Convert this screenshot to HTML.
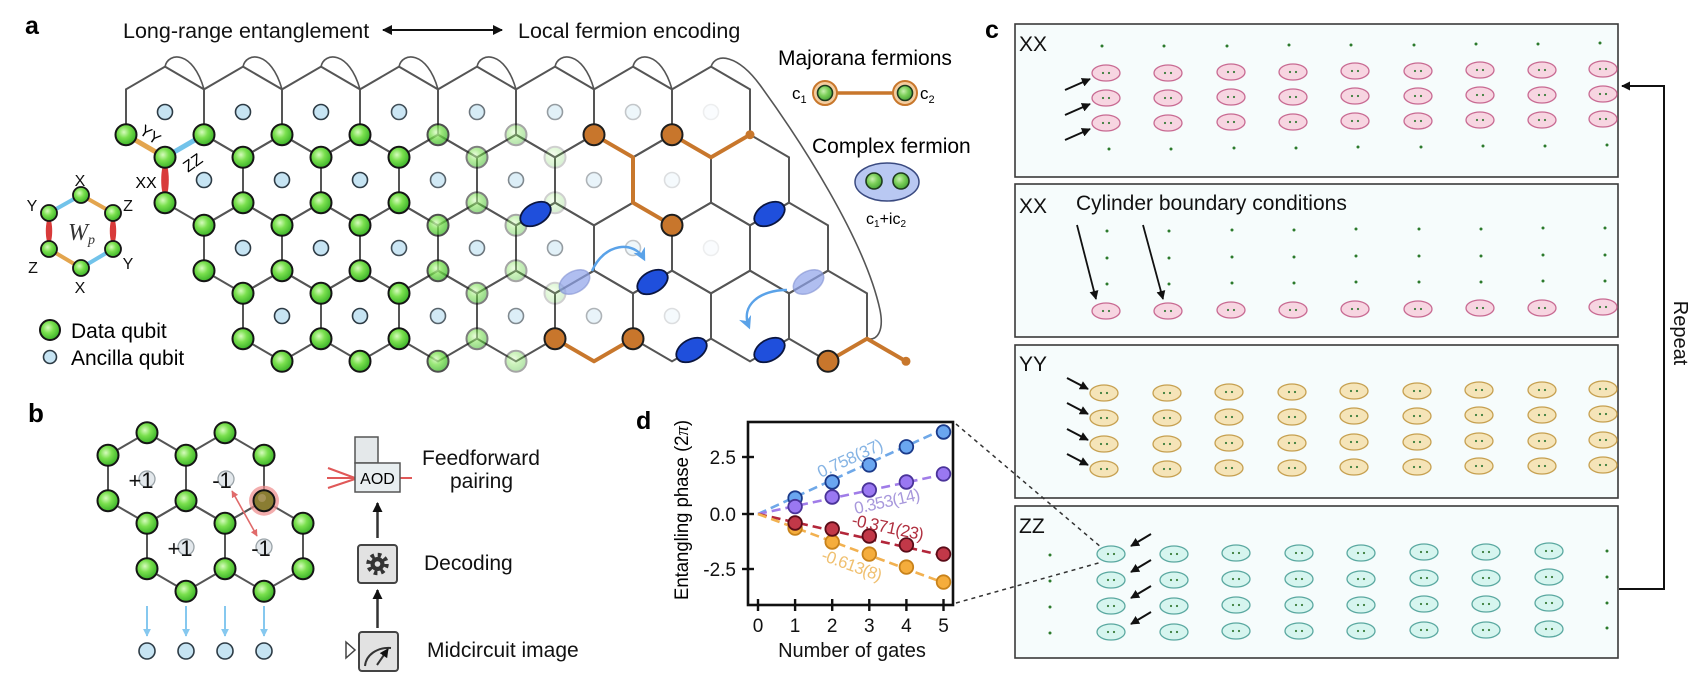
<!DOCTYPE html>
<html><head><meta charset="utf-8">
<style>
html,body{margin:0;padding:0;background:#fff;}
svg{display:block;font-family:"Liberation Sans",Arial,sans-serif;}
</style></head>
<body>
<svg width="1692" height="691" viewBox="0 0 1692 691" xmlns="http://www.w3.org/2000/svg">
<defs>
<radialGradient id="gg" cx="0.4" cy="0.38" r="0.62">
<stop offset="0" stop-color="#d6fbbd"/><stop offset="0.45" stop-color="#7ae04e"/><stop offset="1" stop-color="#3db42a"/>
</radialGradient>
<radialGradient id="gm" cx="0.4" cy="0.38" r="0.62">
<stop offset="0" stop-color="#c9f0b0"/><stop offset="0.5" stop-color="#7ccf5a"/><stop offset="1" stop-color="#4aa83a"/>
</radialGradient>
<path id="hx" d="M0,-45.33 L39,-22.67 L39,22.67 L0,45.33 L-39,22.67 L-39,-22.67 Z" fill="none" stroke="#555" stroke-width="2"/>
<circle id="dq" r="10.5" fill="url(#gg)" stroke="#151515" stroke-width="2"/>
<circle id="an" r="7.5" fill="#c6e4f3" stroke="#2d3b45" stroke-width="1.6"/>
<circle id="oq" r="10.5" fill="#c8762c" stroke="#1e1e1e" stroke-width="2"/>
<ellipse id="be" rx="16.5" ry="10.5" fill="#1f4fdc" stroke="#0b1640" stroke-width="1.8"/>
<ellipse id="le" rx="16.5" ry="10.5" fill="#8ea2ea" fill-opacity="0.7" stroke="#8090d0" stroke-opacity="0.6" stroke-width="1.5"/>
<g id="epk"><ellipse rx="14" ry="8" fill="#f7d5e1" stroke="#c86a92" stroke-width="1.3"/><circle cx="-3" r="1.1" fill="#3b7d3b"/><circle cx="3" r="1.1" fill="#3b7d3b"/></g>
<g id="eyy"><ellipse rx="14" ry="8" fill="#f5e4b8" stroke="#c6a050" stroke-width="1.3"/><circle cx="-3" r="1.1" fill="#3b7d3b"/><circle cx="3" r="1.1" fill="#3b7d3b"/></g>
<g id="ezz"><ellipse rx="14" ry="8" fill="#d6f5ef" stroke="#5aa8a0" stroke-width="1.3"/><circle cx="-3" r="1.1" fill="#3b7d3b"/><circle cx="3" r="1.1" fill="#3b7d3b"/></g>
<circle id="gd" r="1.5" fill="#2c7a2c"/>
<marker id="ka" viewBox="0 0 10 10" refX="9" refY="5" markerWidth="10" markerHeight="10" markerUnits="userSpaceOnUse" orient="auto-start-reverse"><path d="M0,0 L10,5 L0,10 Z" fill="#111"/></marker>
<marker id="ks" viewBox="0 0 10 10" refX="9" refY="5" markerWidth="9" markerHeight="9" markerUnits="userSpaceOnUse" orient="auto"><path d="M0,0 L10,5 L0,10 Z" fill="#111"/></marker>
<marker id="bm" viewBox="0 0 10 10" refX="8" refY="5" markerWidth="13" markerHeight="13" markerUnits="userSpaceOnUse" orient="auto"><path d="M0,0 L10,5 L0,10 L3,5 Z" fill="#5aa2e8"/></marker>
<marker id="lb" viewBox="0 0 10 10" refX="9" refY="5" markerWidth="8" markerHeight="8" markerUnits="userSpaceOnUse" orient="auto"><path d="M0,0 L10,5 L0,10 Z" fill="#86c8ef"/></marker>
<marker id="rm" viewBox="0 0 10 10" refX="9" refY="5" markerWidth="7" markerHeight="7" markerUnits="userSpaceOnUse" orient="auto-start-reverse"><path d="M0,0 L10,5 L0,10 Z" fill="#e06a6a"/></marker>
</defs>

<!-- ============ PANEL A ============ -->
<text x="25" y="34" font-size="25" font-weight="bold">a</text>
<text x="123" y="38" font-size="21.5" fill="#111">Long-range entanglement</text>
<line x1="383" y1="30" x2="502" y2="30" stroke="#111" stroke-width="2" marker-start="url(#ka)" marker-end="url(#ka)"/>
<text x="518" y="38" font-size="21.5" fill="#111">Local fermion encoding</text>

<!-- top loops -->
<g fill="none" stroke="#555" stroke-width="1.6">
<path d="M165,66.7 C168,52 193,50 204,89.3"/>
<path d="M243,66.7 C246,52 271,50 282,89.3"/>
<path d="M321,66.7 C324,52 349,50 360,89.3"/>
<path d="M399,66.7 C402,52 427,50 438,89.3"/>
<path d="M477,66.7 C480,52 505,50 516,89.3"/>
<path d="M555,66.7 C558,52 583,50 594,89.3"/>
<path d="M633,66.7 C636,52 661,50 672,89.3"/>
<path d="M711,66.7 C716,52 738,55 760,85 C800,140 865,240 880,310 C884,330 878,341 867,338.7"/>
</g>

<!-- hex lattice -->
<g>
<use href="#hx" x="165" y="112"/><use href="#hx" x="243" y="112"/><use href="#hx" x="321" y="112"/><use href="#hx" x="399" y="112"/><use href="#hx" x="477" y="112"/><use href="#hx" x="555" y="112"/><use href="#hx" x="633" y="112"/><use href="#hx" x="711" y="112"/>
<use href="#hx" x="204" y="180"/><use href="#hx" x="282" y="180"/><use href="#hx" x="360" y="180"/><use href="#hx" x="438" y="180"/><use href="#hx" x="516" y="180"/><use href="#hx" x="594" y="180"/><use href="#hx" x="672" y="180"/><use href="#hx" x="750" y="180"/>
<use href="#hx" x="243" y="248"/><use href="#hx" x="321" y="248"/><use href="#hx" x="399" y="248"/><use href="#hx" x="477" y="248"/><use href="#hx" x="555" y="248"/><use href="#hx" x="633" y="248"/><use href="#hx" x="711" y="248"/><use href="#hx" x="789" y="248"/>
<use href="#hx" x="282" y="316"/><use href="#hx" x="360" y="316"/><use href="#hx" x="438" y="316"/><use href="#hx" x="516" y="316"/><use href="#hx" x="594" y="316"/><use href="#hx" x="672" y="316"/><use href="#hx" x="750" y="316"/><use href="#hx" x="828" y="316"/>
</g>

<!-- colored edges -->
<line x1="126" y1="134.7" x2="165" y2="157.3" stroke="#e3a54e" stroke-width="5"/>
<line x1="165" y1="157.3" x2="204" y2="134.7" stroke="#72c3ea" stroke-width="5"/>
<ellipse cx="165" cy="180" rx="3.8" ry="17" fill="#d83a3a"/>

<!-- orange paths -->
<g fill="none" stroke="#c8772c" stroke-width="4" stroke-linejoin="round">
<polyline points="594,134.7 633,157.3 633,202.7 672,225.3"/>
<polyline points="672,134.7 711,157.3 750,134.7"/>
<polyline points="555,338.7 594,361.3 633,338.7"/>
<polyline points="828,361.3 867,338.7 906,361.3"/>
</g>

<!-- ancillas -->
<g>
<use href="#an" x="165" y="112"/><use href="#an" x="243" y="112"/><use href="#an" x="321" y="112"/><use href="#an" x="399" y="112" opacity="0.9"/><use href="#an" x="477" y="112" opacity="0.7"/><use href="#an" x="555" y="112" opacity="0.5"/><use href="#an" x="633" y="112" opacity="0.28"/><use href="#an" x="711" y="112" opacity="0.08"/>
<use href="#an" x="204" y="180"/><use href="#an" x="282" y="180"/><use href="#an" x="360" y="180"/><use href="#an" x="438" y="180" opacity="0.8"/><use href="#an" x="516" y="180" opacity="0.6"/><use href="#an" x="594" y="180" opacity="0.38"/><use href="#an" x="672" y="180" opacity="0.16"/>
<use href="#an" x="243" y="248"/><use href="#an" x="321" y="248"/><use href="#an" x="399" y="248" opacity="0.9"/><use href="#an" x="477" y="248" opacity="0.7"/><use href="#an" x="555" y="248" opacity="0.5"/><use href="#an" x="633" y="248" opacity="0.28"/><use href="#an" x="711" y="248" opacity="0.08"/>
<use href="#an" x="282" y="316"/><use href="#an" x="360" y="316"/><use href="#an" x="438" y="316" opacity="0.8"/><use href="#an" x="516" y="316" opacity="0.6"/><use href="#an" x="594" y="316" opacity="0.38"/><use href="#an" x="672" y="316" opacity="0.16"/>
</g>

<!-- data qubits -->
<g>
<use href="#dq" x="126" y="134.7"/><use href="#dq" x="204" y="134.7"/><use href="#dq" x="282" y="134.7"/><use href="#dq" x="360" y="134.7"/><use href="#dq" x="438" y="134.7" opacity="0.75"/><use href="#dq" x="516" y="134.7" opacity="0.38"/>
<use href="#dq" x="165" y="157.3"/><use href="#dq" x="243" y="157.3"/><use href="#dq" x="321" y="157.3"/><use href="#dq" x="399" y="157.3"/><use href="#dq" x="477" y="157.3" opacity="0.55"/><use href="#dq" x="555" y="157.3" opacity="0.2"/>
<use href="#dq" x="165" y="202.7"/><use href="#dq" x="243" y="202.7"/><use href="#dq" x="321" y="202.7"/><use href="#dq" x="399" y="202.7"/><use href="#dq" x="477" y="202.7" opacity="0.55"/><use href="#dq" x="555" y="202.7" opacity="0.2"/>
<use href="#dq" x="204" y="225.3"/><use href="#dq" x="282" y="225.3"/><use href="#dq" x="360" y="225.3"/><use href="#dq" x="438" y="225.3" opacity="0.75"/><use href="#dq" x="516" y="225.3" opacity="0.38"/>
<use href="#dq" x="204" y="270.7"/><use href="#dq" x="282" y="270.7"/><use href="#dq" x="360" y="270.7"/><use href="#dq" x="438" y="270.7" opacity="0.75"/><use href="#dq" x="516" y="270.7" opacity="0.38"/>
<use href="#dq" x="243" y="293.3"/><use href="#dq" x="321" y="293.3"/><use href="#dq" x="399" y="293.3"/><use href="#dq" x="477" y="293.3" opacity="0.55"/><use href="#dq" x="555" y="293.3" opacity="0.2"/>
<use href="#dq" x="243" y="338.7"/><use href="#dq" x="321" y="338.7"/><use href="#dq" x="399" y="338.7"/><use href="#dq" x="477" y="338.7" opacity="0.55"/>
<use href="#dq" x="282" y="361.3"/><use href="#dq" x="360" y="361.3"/><use href="#dq" x="438" y="361.3" opacity="0.75"/><use href="#dq" x="516" y="361.3" opacity="0.38"/>
</g>

<!-- orange qubits -->
<use href="#oq" x="594" y="134.7"/><use href="#oq" x="672" y="134.7"/><use href="#oq" x="672" y="225.3"/>
<use href="#oq" x="555" y="338.7"/><use href="#oq" x="633" y="338.7"/><use href="#oq" x="828" y="361.3"/>
<circle cx="750" cy="134.7" r="4.5" fill="#c8772c"/>
<circle cx="906" cy="361.3" r="4.5" fill="#c8772c"/>

<!-- fermion ellipses -->
<use href="#le" transform="translate(574.5,282) rotate(-30)"/>
<use href="#le" transform="translate(808.5,282) rotate(-30)"/>
<use href="#be" transform="translate(535.5,214) rotate(-30)"/>
<use href="#be" transform="translate(769.5,214) rotate(-30)"/>
<use href="#be" transform="translate(652.5,282) rotate(-30)"/>
<use href="#be" transform="translate(691.5,350) rotate(-30)"/>
<use href="#be" transform="translate(769.5,350) rotate(-30)"/>

<!-- blue arrows -->
<path d="M592,271 C604,243 634,240 644,259" fill="none" stroke="#5aa2e8" stroke-width="2.5" marker-end="url(#bm)"/>
<path d="M787,290 C760,290 740,305 749,327" fill="none" stroke="#5aa2e8" stroke-width="2.5" marker-end="url(#bm)"/>

<!-- YY ZZ XX labels -->
<text x="150" y="140" font-size="16" text-anchor="middle" transform="rotate(35 150 135)">YY</text>
<text x="193" y="168" font-size="16" text-anchor="middle" transform="rotate(-35 193 163)">ZZ</text>
<text x="146" y="188" font-size="16" text-anchor="middle">XX</text>

<!-- W_p plaquette -->
<line x1="81" y1="195" x2="49" y2="213" stroke="#72c3ea" stroke-width="4"/>
<line x1="81" y1="195" x2="113" y2="213" stroke="#e3a54e" stroke-width="4"/>
<line x1="113" y1="249" x2="81" y2="268" stroke="#72c3ea" stroke-width="4"/>
<line x1="81" y1="268" x2="49" y2="249" stroke="#e3a54e" stroke-width="4"/>
<ellipse cx="49" cy="231" rx="3.2" ry="13" fill="#d83a3a"/>
<ellipse cx="113" cy="231" rx="3.2" ry="13" fill="#d83a3a"/>
<g>
<circle cx="81" cy="195" r="8" fill="url(#gg)" stroke="#151515" stroke-width="1.8"/>
<circle cx="113" cy="213" r="8" fill="url(#gg)" stroke="#151515" stroke-width="1.8"/>
<circle cx="113" cy="249" r="8" fill="url(#gg)" stroke="#151515" stroke-width="1.8"/>
<circle cx="81" cy="268" r="8" fill="url(#gg)" stroke="#151515" stroke-width="1.8"/>
<circle cx="49" cy="249" r="8" fill="url(#gg)" stroke="#151515" stroke-width="1.8"/>
<circle cx="49" cy="213" r="8" fill="url(#gg)" stroke="#151515" stroke-width="1.8"/>
</g>
<g font-size="16" text-anchor="middle" fill="#111">
<text x="80" y="186">X</text>
<text x="32" y="211">Y</text>
<text x="128" y="211">Z</text>
<text x="33" y="273">Z</text>
<text x="128" y="269">Y</text>
<text x="80" y="293">X</text>
</g>
<text x="68" y="240" font-family="'Liberation Serif',serif" font-style="italic" font-size="24" fill="#333">W<tspan font-size="14" dy="4">p</tspan></text>

<!-- legend -->
<circle cx="50" cy="330" r="10" fill="url(#gg)" stroke="#151515" stroke-width="2"/>
<text x="71" y="338" font-size="21">Data qubit</text>
<circle cx="50" cy="357" r="6.5" fill="#c6e4f3" stroke="#2d3b45" stroke-width="1.6"/>
<text x="71" y="365" font-size="21">Ancilla qubit</text>

<!-- Majorana legend -->
<text x="778" y="65" font-size="21">Majorana fermions</text>
<line x1="836" y1="93" x2="894" y2="93" stroke="#c8772c" stroke-width="3.5"/>
<circle cx="825" cy="93" r="12" fill="#f4cda0" stroke="#c8772c" stroke-width="2"/>
<circle cx="825" cy="93" r="7.5" fill="url(#gm)" stroke="#1d3a1d" stroke-width="1.6"/>
<circle cx="905" cy="93" r="12" fill="#f4cda0" stroke="#c8772c" stroke-width="2"/>
<circle cx="905" cy="93" r="7.5" fill="url(#gm)" stroke="#1d3a1d" stroke-width="1.6"/>
<text x="792" y="99" font-size="17">c<tspan font-size="11" dy="4">1</tspan></text>
<text x="920" y="99" font-size="17">c<tspan font-size="11" dy="4">2</tspan></text>
<text x="812" y="153" font-size="21">Complex fermion</text>
<ellipse cx="887" cy="182" rx="32" ry="19" fill="#b9c8f2" stroke="#3a4a80" stroke-width="1.5"/>
<circle cx="874" cy="181" r="8" fill="url(#gm)" stroke="#1d3a1d" stroke-width="1.6"/>
<circle cx="901" cy="181" r="8" fill="url(#gm)" stroke="#1d3a1d" stroke-width="1.6"/>
<text x="866" y="224" font-size="16">c<tspan font-size="10" dy="3">1</tspan><tspan dy="-3">+ic</tspan><tspan font-size="10" dy="3">2</tspan></text>

<!-- ============ PANEL B ============ -->
<text x="28" y="422" font-size="26" font-weight="bold">b</text>
<g>
<use href="#hx" x="147" y="478"/><use href="#hx" x="225" y="478"/><use href="#hx" x="186" y="546"/><use href="#hx" x="264" y="546"/>
</g>
<g fill="#e3e8ec" stroke="#9aa3a8" stroke-width="1.3">
<circle cx="147" cy="479" r="8"/><circle cx="226" cy="479" r="8"/><circle cx="186" cy="547" r="8"/><circle cx="264" cy="547" r="8"/>
</g>
<g font-size="22" text-anchor="middle" fill="#111">
<text x="141" y="488">+1</text>
<text x="222" y="488">-1</text>
<text x="180" y="556">+1</text>
<text x="261" y="556">-1</text>
</g>
<line x1="232" y1="491" x2="257" y2="536" stroke="#e06a6a" stroke-width="1.6" marker-start="url(#rm)" marker-end="url(#rm)"/>
<g>
<use href="#dq" x="147" y="432.7"/><use href="#dq" x="225" y="432.7"/>
<use href="#dq" x="108" y="455.3"/><use href="#dq" x="186" y="455.3"/><use href="#dq" x="264" y="455.3"/>
<use href="#dq" x="108" y="500.7"/><use href="#dq" x="186" y="500.7"/>
<use href="#dq" x="147" y="523.3"/><use href="#dq" x="225" y="523.3"/><use href="#dq" x="303" y="523.3"/>
<use href="#dq" x="147" y="568.7"/><use href="#dq" x="225" y="568.7"/><use href="#dq" x="303" y="568.7"/>
<use href="#dq" x="186" y="591.3"/><use href="#dq" x="264" y="591.3"/>
</g>
<circle cx="264" cy="500.7" r="15" fill="#ee8a8a" fill-opacity="0.7"/>
<circle cx="264" cy="500.7" r="10.5" fill="#8a7d32" stroke="#151515" stroke-width="2"/>
<circle cx="262" cy="498" r="4" fill="#b8a070" opacity="0.6"/>
<g stroke="#86c8ef" stroke-width="2">
<line x1="147" y1="606" x2="147" y2="636" marker-end="url(#lb)"/>
<line x1="186" y1="606" x2="186" y2="636" marker-end="url(#lb)"/>
<line x1="225" y1="606" x2="225" y2="636" marker-end="url(#lb)"/>
<line x1="264" y1="606" x2="264" y2="636" marker-end="url(#lb)"/>
</g>
<g fill="#c6e4f3" stroke="#2d3b45" stroke-width="1.6">
<circle cx="147" cy="651" r="8"/><circle cx="186" cy="651" r="8"/><circle cx="225" cy="651" r="8"/><circle cx="264" cy="651" r="8"/>
</g>

<!-- flowchart -->
<g stroke="#e05858" stroke-width="2" fill="none">
<line x1="328" y1="468" x2="355" y2="478"/>
<line x1="327" y1="478" x2="355" y2="478"/>
<line x1="328" y1="488" x2="355" y2="479"/>
<line x1="400" y1="478" x2="412" y2="478"/>
</g>
<rect x="355" y="437" width="23" height="26" fill="#e4e8ea" stroke="#555" stroke-width="1.5"/>
<rect x="355" y="463" width="45" height="29" fill="#e8eef0" stroke="#555" stroke-width="1.5"/>
<text x="377.5" y="484" font-size="16" text-anchor="middle">AOD</text>
<line x1="377.5" y1="538" x2="377.5" y2="503" stroke="#333" stroke-width="2.5" marker-end="url(#ka)"/>
<rect x="358" y="545" width="39" height="38" rx="3" fill="#e2e2e2" stroke="#444" stroke-width="2"/>
<circle cx="377.5" cy="564" r="9" fill="none" stroke="#333" stroke-width="4.5" stroke-dasharray="3.53 3.53"/>
<circle cx="377.5" cy="564" r="7" fill="#333"/>
<circle cx="377.5" cy="564" r="2.8" fill="#e2e2e2"/>
<line x1="377.5" y1="628" x2="377.5" y2="590" stroke="#333" stroke-width="2.5" marker-end="url(#ka)"/>
<rect x="359" y="632" width="39" height="39" rx="3" fill="#e2e2e2" stroke="#444" stroke-width="2"/>
<path d="M365,666 C366,655 377,647 391,648" fill="none" stroke="#333" stroke-width="2"/>
<line x1="377" y1="665" x2="388" y2="649" stroke="#333" stroke-width="2" marker-end="url(#ks)"/>
<path d="M346,642 L355,650 L346,658 Z" fill="#fff" stroke="#444" stroke-width="1.5"/>
<g font-size="21" fill="#111">
<text x="422" y="465">Feedforward</text>
<text x="450" y="488">pairing</text>
<text x="424" y="570">Decoding</text>
<text x="427" y="657">Midcircuit image</text>
</g>

<!-- ============ PANEL D ============ -->
<text x="636" y="429" font-size="25" font-weight="bold">d</text>
<text transform="translate(688,510) rotate(-90)" font-size="19" text-anchor="middle" textLength="180" lengthAdjust="spacingAndGlyphs">Entangling phase (2<tspan font-family="'Liberation Serif',serif" font-style="italic">π</tspan>)</text>
<!-- fit lines -->
<g stroke-width="2.6" stroke-dasharray="9 5" fill="none">
<line x1="758" y1="514" x2="943.5" y2="429.1" stroke="#6fa8e8"/>
<line x1="758" y1="514" x2="943.5" y2="474.5" stroke="#a07ce8"/>
<line x1="758" y1="514" x2="943.5" y2="555.6" stroke="#b3263a"/>
<line x1="758" y1="514" x2="943.5" y2="582.7" stroke="#f2b150"/>
</g>
<!-- points -->
<g stroke-width="1.8">
<g fill="#f5ad3c" stroke="#c8821a">
<circle cx="795.1" cy="528.1" r="6.8"/><circle cx="832.2" cy="542" r="6.8"/><circle cx="869.3" cy="554.1" r="6.8"/><circle cx="906.4" cy="567.1" r="6.8"/><circle cx="943.5" cy="582.1" r="6.8"/>
</g>
<g fill="#c23848" stroke="#5a0c18">
<circle cx="795.1" cy="523" r="6.8"/><circle cx="832.2" cy="529" r="6.8"/><circle cx="869.3" cy="536" r="6.8"/><circle cx="906.4" cy="544.9" r="6.8"/><circle cx="943.5" cy="554.1" r="6.8"/>
</g>
<g fill="#6aa6f0" stroke="#1b3a8a">
<circle cx="795.1" cy="498.1" r="6.8"/><circle cx="832.2" cy="482" r="6.8"/><circle cx="869.3" cy="464.9" r="6.8"/><circle cx="906.4" cy="446.8" r="6.8"/><circle cx="943.5" cy="432" r="6.8"/>
</g>
<g fill="#9a78f2" stroke="#4a3399">
<circle cx="795.1" cy="506.6" r="6.8"/><circle cx="832.2" cy="497" r="6.8"/><circle cx="869.3" cy="490" r="6.8"/><circle cx="906.4" cy="482" r="6.8"/><circle cx="943.5" cy="473.9" r="6.8"/>
</g>
</g>
<!-- fit labels -->
<g font-size="17" text-anchor="middle" lengthAdjust="spacingAndGlyphs">
<text x="850" y="464" fill="#86b4e4" transform="rotate(-24.6 850 458)" textLength="70">0.758(37)</text>
<text x="887" y="507" fill="#a898dc" transform="rotate(-12.5 887 501)" textLength="67">0.353(14)</text>
<text x="888" y="533" fill="#b03040" transform="rotate(12 888 527)" textLength="73">-0.371(23)</text>
<text x="852" y="571" fill="#f0c070" transform="rotate(20 852 565)" textLength="63">-0.613(8)</text>
</g>
<!-- frame -->
<rect x="748" y="422" width="205" height="183" fill="none" stroke="#111" stroke-width="2.6"/>
<g stroke="#111" stroke-width="2.4">
<line x1="742" y1="457" x2="754" y2="457"/><line x1="742" y1="514" x2="754" y2="514"/><line x1="742" y1="569" x2="754" y2="569"/>
<line x1="758" y1="599" x2="758" y2="611"/><line x1="795.1" y1="599" x2="795.1" y2="611"/><line x1="832.2" y1="599" x2="832.2" y2="611"/><line x1="869.3" y1="599" x2="869.3" y2="611"/><line x1="906.4" y1="599" x2="906.4" y2="611"/><line x1="943.5" y1="599" x2="943.5" y2="611"/>
</g>
<g font-size="19" text-anchor="end" fill="#111">
<text x="736" y="464">2.5</text><text x="736" y="521">0.0</text><text x="736" y="576">-2.5</text>
</g>
<g font-size="19" text-anchor="middle" fill="#111">
<text x="758" y="632">0</text><text x="795.1" y="632">1</text><text x="832.2" y="632">2</text><text x="869.3" y="632">3</text><text x="906.4" y="632">4</text><text x="943.5" y="632">5</text>
</g>
<text x="852" y="657" font-size="20" text-anchor="middle" fill="#111">Number of gates</text>

<!-- ============ PANEL C ============ -->
<text x="985" y="38" font-size="25" font-weight="bold">c</text>
<g fill="#f6fcfc" stroke="#3a3a3a" stroke-width="1.6">
<rect x="1015" y="24" width="603" height="153"/>
<rect x="1015" y="184" width="603" height="153"/>
<rect x="1015" y="345" width="603" height="153"/>
<rect x="1015" y="506" width="603" height="152"/>
</g>
<g font-size="21" fill="#111">
<text x="1019" y="51">XX</text>
<text x="1019" y="213">XX</text>
<text x="1076" y="210">Cylinder boundary conditions</text>
<text x="1019" y="371">YY</text>
<text x="1019" y="533">ZZ</text>
</g>

<!-- box1 XX -->
<g>
<use href="#gd" x="1102" y="46"/><use href="#gd" x="1164" y="46"/><use href="#gd" x="1227" y="46"/><use href="#gd" x="1289" y="45"/><use href="#gd" x="1351" y="45"/><use href="#gd" x="1414" y="45"/><use href="#gd" x="1476" y="44"/><use href="#gd" x="1538" y="44"/><use href="#gd" x="1600" y="43"/>
<use href="#gd" x="1109" y="149"/><use href="#gd" x="1171" y="149"/><use href="#gd" x="1234" y="148"/><use href="#gd" x="1296" y="148"/><use href="#gd" x="1358" y="147"/><use href="#gd" x="1421" y="147"/><use href="#gd" x="1483" y="146"/><use href="#gd" x="1545" y="146"/><use href="#gd" x="1607" y="145"/>
<use href="#epk" x="1106" y="73"/><use href="#epk" x="1168" y="73"/><use href="#epk" x="1231" y="72"/><use href="#epk" x="1293" y="72"/><use href="#epk" x="1355" y="71"/><use href="#epk" x="1418" y="71"/><use href="#epk" x="1480" y="70"/><use href="#epk" x="1542" y="70"/><use href="#epk" x="1603" y="69"/>
<use href="#epk" x="1106" y="98"/><use href="#epk" x="1168" y="98"/><use href="#epk" x="1231" y="97"/><use href="#epk" x="1293" y="97"/><use href="#epk" x="1355" y="96"/><use href="#epk" x="1418" y="96"/><use href="#epk" x="1480" y="95"/><use href="#epk" x="1542" y="95"/><use href="#epk" x="1603" y="94"/>
<use href="#epk" x="1106" y="123"/><use href="#epk" x="1168" y="123"/><use href="#epk" x="1231" y="122"/><use href="#epk" x="1293" y="122"/><use href="#epk" x="1355" y="121"/><use href="#epk" x="1418" y="121"/><use href="#epk" x="1480" y="120"/><use href="#epk" x="1542" y="120"/><use href="#epk" x="1603" y="119"/>
</g>
<g stroke="#111" stroke-width="2">
<line x1="1065" y1="90" x2="1090" y2="79" marker-end="url(#ks)"/>
<line x1="1065" y1="115" x2="1090" y2="104" marker-end="url(#ks)"/>
<line x1="1065" y1="140" x2="1090" y2="129" marker-end="url(#ks)"/>
</g>

<!-- box2 XX cylinder -->
<g>
<use href="#gd" x="1107" y="231"/><use href="#gd" x="1169" y="231"/><use href="#gd" x="1232" y="230"/><use href="#gd" x="1294" y="230"/><use href="#gd" x="1356" y="229"/><use href="#gd" x="1419" y="229"/><use href="#gd" x="1481" y="229"/><use href="#gd" x="1543" y="228"/><use href="#gd" x="1605" y="228"/>
<use href="#gd" x="1107" y="258"/><use href="#gd" x="1169" y="258"/><use href="#gd" x="1232" y="257"/><use href="#gd" x="1294" y="257"/><use href="#gd" x="1356" y="256"/><use href="#gd" x="1419" y="256"/><use href="#gd" x="1481" y="256"/><use href="#gd" x="1543" y="255"/><use href="#gd" x="1605" y="255"/>
<use href="#gd" x="1107" y="284"/><use href="#gd" x="1169" y="284"/><use href="#gd" x="1232" y="283"/><use href="#gd" x="1294" y="283"/><use href="#gd" x="1356" y="282"/><use href="#gd" x="1419" y="282"/><use href="#gd" x="1481" y="282"/><use href="#gd" x="1543" y="281"/><use href="#gd" x="1605" y="281"/>
<use href="#epk" x="1106" y="311"/><use href="#epk" x="1168" y="311"/><use href="#epk" x="1231" y="310"/><use href="#epk" x="1293" y="310"/><use href="#epk" x="1355" y="309"/><use href="#epk" x="1418" y="309"/><use href="#epk" x="1480" y="308"/><use href="#epk" x="1542" y="308"/><use href="#epk" x="1603" y="307"/>
</g>
<g stroke="#111" stroke-width="1.8">
<line x1="1077" y1="225" x2="1096" y2="299" marker-end="url(#ks)"/>
<line x1="1143" y1="225" x2="1163" y2="299" marker-end="url(#ks)"/>
</g>

<!-- box3 YY -->
<g>
<use href="#eyy" x="1104" y="393"/><use href="#eyy" x="1167" y="393"/><use href="#eyy" x="1229" y="392"/><use href="#eyy" x="1292" y="392"/><use href="#eyy" x="1354" y="391"/><use href="#eyy" x="1417" y="391"/><use href="#eyy" x="1479" y="390"/><use href="#eyy" x="1542" y="390"/><use href="#eyy" x="1603" y="389"/>
<use href="#eyy" x="1104" y="418"/><use href="#eyy" x="1167" y="418"/><use href="#eyy" x="1229" y="417"/><use href="#eyy" x="1292" y="417"/><use href="#eyy" x="1354" y="416"/><use href="#eyy" x="1417" y="416"/><use href="#eyy" x="1479" y="415"/><use href="#eyy" x="1542" y="415"/><use href="#eyy" x="1603" y="414"/>
<use href="#eyy" x="1104" y="444"/><use href="#eyy" x="1167" y="444"/><use href="#eyy" x="1229" y="443"/><use href="#eyy" x="1292" y="443"/><use href="#eyy" x="1354" y="442"/><use href="#eyy" x="1417" y="442"/><use href="#eyy" x="1479" y="441"/><use href="#eyy" x="1542" y="441"/><use href="#eyy" x="1603" y="440"/>
<use href="#eyy" x="1104" y="469"/><use href="#eyy" x="1167" y="469"/><use href="#eyy" x="1229" y="468"/><use href="#eyy" x="1292" y="468"/><use href="#eyy" x="1354" y="467"/><use href="#eyy" x="1417" y="467"/><use href="#eyy" x="1479" y="466"/><use href="#eyy" x="1542" y="466"/><use href="#eyy" x="1603" y="465"/>
</g>
<g stroke="#111" stroke-width="2">
<line x1="1067" y1="378" x2="1088" y2="389" marker-end="url(#ks)"/>
<line x1="1067" y1="403" x2="1088" y2="414" marker-end="url(#ks)"/>
<line x1="1067" y1="429" x2="1088" y2="440" marker-end="url(#ks)"/>
<line x1="1067" y1="454" x2="1088" y2="465" marker-end="url(#ks)"/>
</g>

<!-- box4 ZZ -->
<g>
<use href="#gd" x="1050" y="555"/><use href="#gd" x="1050" y="581"/><use href="#gd" x="1050" y="607"/><use href="#gd" x="1050" y="633"/>
<use href="#gd" x="1607" y="551"/><use href="#gd" x="1607" y="577"/><use href="#gd" x="1607" y="603"/><use href="#gd" x="1607" y="628"/>
<use href="#ezz" x="1111" y="554"/><use href="#ezz" x="1174" y="554"/><use href="#ezz" x="1236" y="553"/><use href="#ezz" x="1299" y="553"/><use href="#ezz" x="1361" y="553"/><use href="#ezz" x="1424" y="552"/><use href="#ezz" x="1486" y="552"/><use href="#ezz" x="1549" y="551"/>
<use href="#ezz" x="1111" y="580"/><use href="#ezz" x="1174" y="580"/><use href="#ezz" x="1236" y="579"/><use href="#ezz" x="1299" y="579"/><use href="#ezz" x="1361" y="579"/><use href="#ezz" x="1424" y="578"/><use href="#ezz" x="1486" y="578"/><use href="#ezz" x="1549" y="577"/>
<use href="#ezz" x="1111" y="606"/><use href="#ezz" x="1174" y="606"/><use href="#ezz" x="1236" y="605"/><use href="#ezz" x="1299" y="605"/><use href="#ezz" x="1361" y="605"/><use href="#ezz" x="1424" y="604"/><use href="#ezz" x="1486" y="604"/><use href="#ezz" x="1549" y="603"/>
<use href="#ezz" x="1111" y="632"/><use href="#ezz" x="1174" y="632"/><use href="#ezz" x="1236" y="631"/><use href="#ezz" x="1299" y="631"/><use href="#ezz" x="1361" y="631"/><use href="#ezz" x="1424" y="630"/><use href="#ezz" x="1486" y="630"/><use href="#ezz" x="1549" y="629"/>
</g>
<g stroke="#111" stroke-width="2">
<line x1="1151" y1="534" x2="1131" y2="546" marker-end="url(#ks)"/>
<line x1="1151" y1="560" x2="1131" y2="572" marker-end="url(#ks)"/>
<line x1="1151" y1="586" x2="1131" y2="598" marker-end="url(#ks)"/>
<line x1="1151" y1="612" x2="1131" y2="624" marker-end="url(#ks)"/>
</g>

<!-- dashed connectors -->
<g stroke="#333" stroke-width="1.5" stroke-dasharray="4 4" fill="none">
<line x1="956" y1="424" x2="1102" y2="548"/>
<line x1="956" y1="603" x2="1102" y2="562"/>
</g>

<!-- Repeat bracket -->
<polyline points="1619,589 1664,589 1664,86 1622,86" fill="none" stroke="#111" stroke-width="2" marker-end="url(#ks)"/>
<text transform="translate(1674,333) rotate(90)" font-size="20" text-anchor="middle" fill="#111">Repeat</text>
</svg>
</body></html>
